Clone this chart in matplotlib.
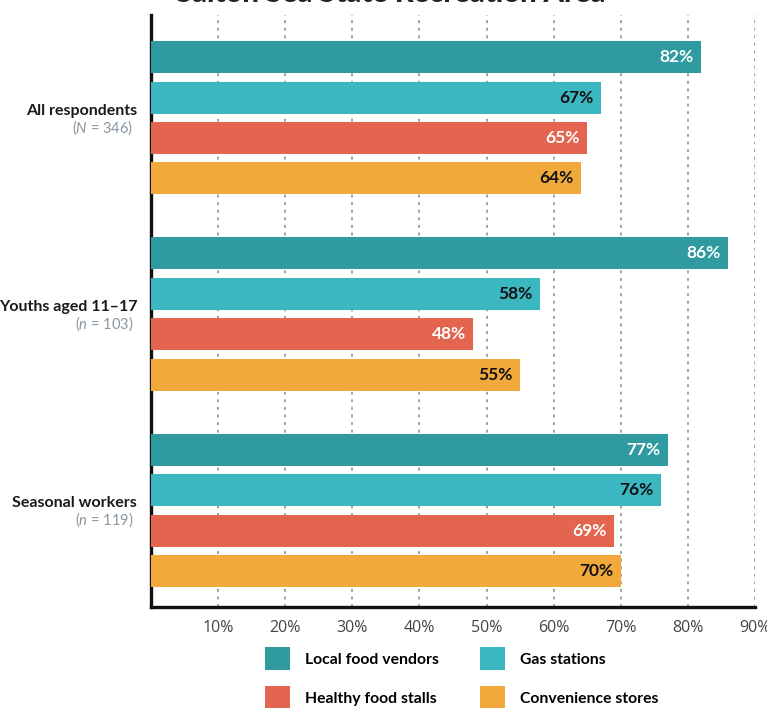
import matplotlib
matplotlib.use("Agg")
import matplotlib.pyplot as plt
from matplotlib.patches import Patch

plt.rcParams['font.family'] = ['Lato', 'DejaVu Sans']
plt.rcParams['mathtext.fontset'] = 'custom'
plt.rcParams['mathtext.it'] = 'Lato:italic'
plt.rcParams['mathtext.rm'] = 'Lato'

title = "Salton Sea State Recreation Area"
groups = ["All respondents", "Youths aged 11\u201317", "Seasonal workers"]
group_sizes = ["($\\mathit{N}$ = 346)", "($\\mathit{n}$ = 103)", "($\\mathit{n}$ = 119)"]
series = ["Local food vendors", "Gas stations", "Healthy food stalls", "Convenience stores"]
local_food_vendors = [82, 86, 77]
gas_stations = [67, 58, 76]
healthy_food_stalls = [65, 48, 69]
convenience_stores = [64, 55, 70]
xticks = [10, 20, 30, 40, 50, 60, 70, 80, 90]

values = [local_food_vendors, gas_stations, healthy_food_stalls, convenience_stores]
colors = ["#2f9ba1", "#3bb7c2", "#e3654f", "#f1a93b"]
label_colors = ["white", "#111111", "white", "#111111"]

W, H = 767, 708
fig = plt.figure(figsize=(W / 100, H / 100), dpi=100)
left, right, top, bottom = 151, 755, 15, 607
ax = fig.add_axes([left / W, 1 - bottom / H, (right - left) / W, (bottom - top) / H])

group_step = 4.85
bar_h = 0.79
for s, (vals, col, lcol) in enumerate(zip(values, colors, label_colors)):
    ys = [g * group_step + s for g in range(len(groups))]
    ax.barh(ys, vals, height=bar_h, color=col, zorder=3)
    for y, v in zip(ys, vals):
        ax.text(v - 1.1, y, f"{v}%", ha="right", va="center", color=lcol,
                fontsize=12.5, fontweight="bold", zorder=4)

for x in xticks:
    ax.axvline(x, color="#9a9a9a", lw=1.3, linestyle=(0, (1.6, 2.6)), zorder=1)

ax.set_xlim(0, 90)
ax.set_ylim(2 * group_step + 3 + 0.89, -1.04)
ax.set_xticks(xticks)
ax.set_xticklabels([f"{t}%" for t in xticks], fontsize=11.5, color="#444444",
                   family="Open Sans")
ax.tick_params(axis="x", length=0, pad=9)
ax.set_yticks([])
for sp in ["top", "right"]:
    ax.spines[sp].set_visible(False)
for sp in ["left", "bottom"]:
    ax.spines[sp].set_linewidth(2.4)
    ax.spines[sp].set_color("#111111")

ytr = ax.get_yaxis_transform()
for g, (name, size) in enumerate(zip(groups, group_sizes)):
    yc = g * group_step + 1.5
    ax.text(-0.023, yc - 0.17, name, transform=ytr, ha="right", va="center",
            fontsize=11.5, fontweight="bold", color="#1a1a1a")
    ax.text(-0.03, yc + 0.24, size, transform=ytr, ha="right", va="center",
            fontsize=10.5, color="#8a95a2")

fig.text(0.51, 1 - 2.5 / H, title, ha="center", va="baseline", fontsize=21,
         fontweight="black", color="#222222")

# legend reads row by row: two series per row
order = [0, 2, 1, 3]
handles = [Patch(facecolor=colors[i], edgecolor="none") for i in order]
fig.legend(handles, [series[i] for i in order], ncol=2, loc="upper left",
           bbox_to_anchor=(262 / W, 1 - 644 / H), frameon=False,
           prop={"size": 11.3, "weight": "bold"}, handlelength=1.6, handleheight=1.85,
           handletextpad=0.95, columnspacing=2.6, labelspacing=1.05,
           borderaxespad=0, borderpad=0.2)

fig.savefig("out.png", dpi=100)
